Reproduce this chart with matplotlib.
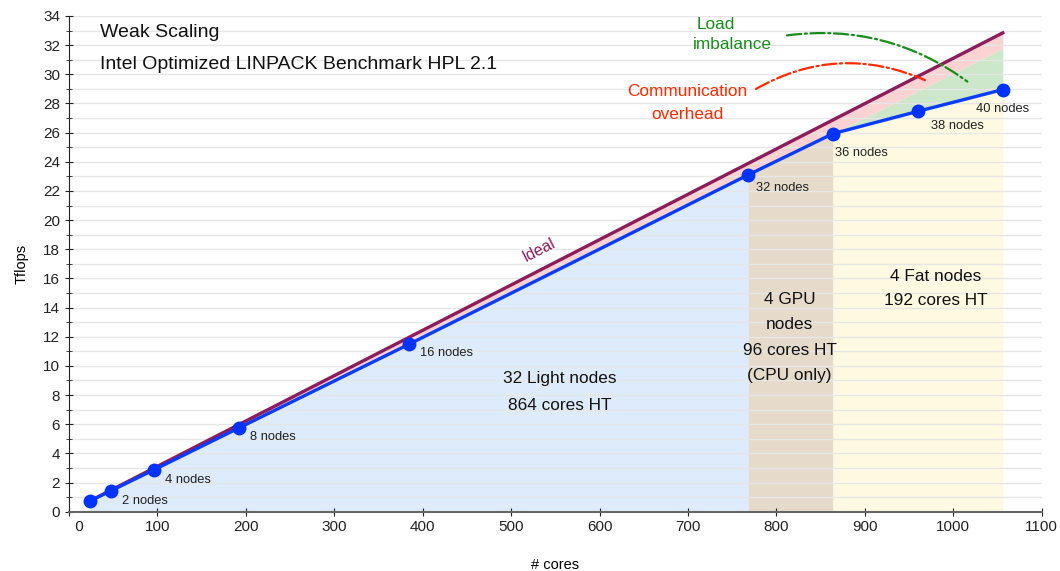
import numpy as np
import matplotlib.pyplot as plt
from matplotlib.ticker import MultipleLocator, FuncFormatter

plt.rcParams['font.family'] = ['Liberation Sans', 'DejaVu Sans']

# measured weak scaling points
cores = [24, 48, 96, 192, 384, 768, 864, 960, 1056]
tflops = [0.74, 1.45, 2.87, 5.74, 11.47, 23.1, 25.93, 27.46, 28.95]
node_labels = ['', '2 nodes', '4 nodes', '8 nodes', '16 nodes', '32 nodes',
               '36 nodes', '38 nodes', '40 nodes']

# ideal scaling (Tflops per core)
ideal_per_core = 0.0311
# upper edge of the load imbalance band (fat nodes)
imbalance_x = [864, 1056]
imbalance_y = [25.93, 31.78]

# partition boundaries
light_end = 768
gpu_end = 864

# label offsets in pixels (dx, dy)
offsets = [(0, 0), (11, -10), (11, -10), (11, -9), (11, -9), (8, -13),
           (2, -19), (13, -15), (-27, -19)]

fig = plt.figure(figsize=(10.6, 5.71), dpi=100)
ax = fig.add_axes([0.0651, 0.1039, 0.9176, 0.8681])

x = np.array(cores, dtype=float)
y = np.array(tflops)
ideal = ideal_per_core * x

# partition fills under the measured curve
light = x <= light_end
gpu = (x >= light_end) & (x <= gpu_end)
fat = x >= gpu_end
ax.fill_between(x[light], 0, y[light], color='#deebfc', lw=0, zorder=1)
ax.fill_between(x[gpu], 0, y[gpu], color='#e6dacb', lw=0, zorder=1)
ax.fill_between(x[fat], 0, y[fat], color='#fefae2', lw=0, zorder=1)

# overhead bands
upper = y.copy()
upper[fat] = np.interp(x[fat], imbalance_x, imbalance_y)
ax.fill_between(x, y, upper, color='#cde7cb', lw=0, zorder=1)
ax.fill_between(x, upper, ideal, color='#fbd2d2', lw=0, zorder=1)

ax.plot(x, ideal, color='#8c1c5c', lw=2.4, zorder=3)
ax.plot(x, y, color='#0a3cff', lw=2.4, marker='o', ms=9,
        mfc='#0033ff', mec='#0033ff', zorder=4)

for xi, yi, lab, off in zip(x, y, node_labels, offsets):
    if lab:
        ax.annotate(lab, (xi, yi), xytext=off, textcoords='offset pixels',
                    fontsize=9.3, color='#222222', ha='left', va='center')

ax.text(531, 17.95, 'Ideal', color='#8c1c5c', fontsize=11.5, rotation=27,
        ha='center', va='center')

ax.text(555, 8.24, '32 Light nodes\n864 cores HT', fontsize=12.4,
        ha='center', va='center', linespacing=2.0, color='#111111')
ax.text(815, 11.95, '4 GPU\nnodes\n96 cores HT\n(CPU only)', fontsize=12.4,
        ha='center', va='center', linespacing=1.85, color='#111111')
ax.text(980, 15.3, '4 Fat nodes\n192 cores HT', fontsize=12.4,
        ha='center', va='center', linespacing=1.72, color='#111111')

ax.text(35, 32.9, 'Weak Scaling', fontsize=14, va='center', color='#111111')
ax.text(35, 30.7, 'Intel Optimized LINPACK Benchmark HPL 2.1', fontsize=14,
        va='center', color='#111111')

# overhead annotations
ax.text(732, 33.4, 'Load', color='#1a8c1a', fontsize=12.4,
        ha='center', va='center')
ax.text(750, 32.05, 'imbalance', color='#1a8c1a', fontsize=12.4,
        ha='center', va='center')
ax.annotate('', xy=(1016, 29.5), xytext=(812, 32.67),
            arrowprops=dict(arrowstyle='-', color='#1a8c1a', lw=1.6, ls='-.',
                            connectionstyle='arc3,rad=-0.2',
                            shrinkA=0, shrinkB=0))
ax.text(699, 28.05, 'Communication\noverhead', color='#ff2a00', fontsize=12.4,
        ha='center', va='center', linespacing=1.65)
ax.annotate('', xy=(968, 29.6), xytext=(777, 29.0),
            arrowprops=dict(arrowstyle='-', color='#ff2a00', lw=1.6, ls='-.',
                            connectionstyle='arc3,rad=-0.25',
                            shrinkA=0, shrinkB=0))

ax.set_xlim(0, 1100)
ax.set_ylim(0, 34)
ax.xaxis.set_major_locator(MultipleLocator(100))
# the "0" label sits a little right of its tick
ax.xaxis.set_major_formatter(FuncFormatter(
    lambda v, p: '     0' if v == 0 else f'{v:.0f}'))
ax.yaxis.set_major_locator(MultipleLocator(2))
ax.yaxis.set_minor_locator(MultipleLocator(1))
ax.grid(axis='y', which='both', color='#e6e6e6', lw=1)
ax.set_axisbelow('line')

for s in ['top', 'right']:
    ax.spines[s].set_visible(False)
ax.spines['left'].set_color('#222222')
ax.spines['bottom'].set_color('#666666')
ax.spines['bottom'].set_linewidth(1.5)
ax.tick_params(axis='both', which='both', direction='inout', labelsize=11,
               colors='#222222')
ax.tick_params(axis='both', which='major', length=6)
ax.tick_params(axis='y', which='minor', length=5)
ax.tick_params(axis='x', pad=3)

ax.set_xlabel('# cores', fontsize=10.5, labelpad=17)
ax.set_ylabel('Tflops', fontsize=10.5, labelpad=10)

fig.savefig('out.png', dpi=100)
